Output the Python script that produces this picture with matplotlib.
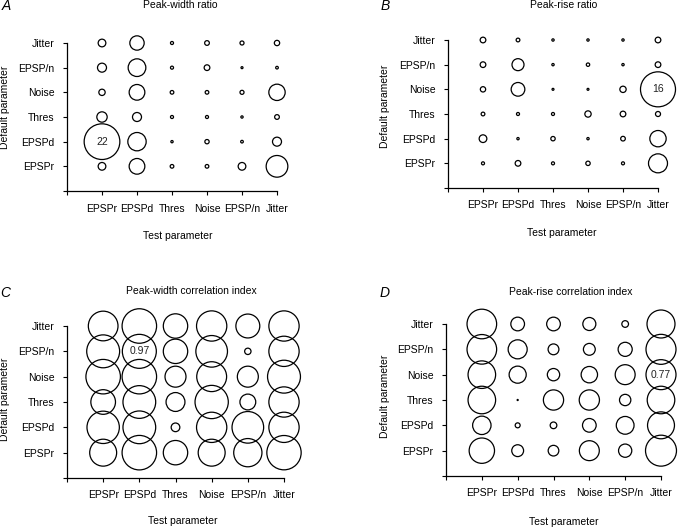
import matplotlib
matplotlib.use('Agg')
import matplotlib.pyplot as plt
import numpy as np

plt.rcParams['font.family'] = ['Liberation Sans', 'DejaVu Sans']

# Parameters (x: test parameter, y: default parameter, bottom -> top)
test_params = ['EPSPr', 'EPSPd', 'Thres', 'Noise', 'EPSP/n', 'Jitter']
default_params = ['EPSPr', 'EPSPd', 'Thres', 'Noise', 'EPSP/n', 'Jitter']

# Panel A: Peak-width ratio (rows = default param, bottom->top; cols = test param)
peak_width_ratio = [
    [1.02, 4.25, 0.23, 0.23, 1.02, 8.12],   # EPSPr
    [22.0, 5.81, 0.09, 0.32, 0.12, 1.40],   # EPSPd
    [1.85, 1.40, 0.16, 0.16, 0.09, 0.38],   # Thres
    [0.69, 4.25, 0.23, 0.23, 0.28, 4.61],   # Noise
    [1.40, 5.40, 0.16, 0.56, 0.07, 0.12],   # EPSP/n
    [1.02, 3.55, 0.16, 0.38, 0.28, 0.49],   # Jitter
]

# Panel B: Peak-rise ratio
peak_rise_ratio = [
    [0.12, 0.42, 0.12, 0.25, 0.12, 4.71],
    [0.77, 0.07, 0.25, 0.07, 0.28, 3.48],
    [0.18, 0.12, 0.12, 0.52, 0.42, 0.33],
    [0.37, 2.44, 0.05, 0.05, 0.52, 16.0],
    [0.42, 1.88, 0.07, 0.15, 0.07, 0.42],
    [0.42, 0.18, 0.07, 0.07, 0.07, 0.42],
]

# Panel C: Peak-width correlation index
peak_width_corr = [
    [0.61, 1.00, 0.50, 0.61, 0.67, 0.99],
    [0.88, 0.90, 0.063, 0.77, 0.84, 0.77],
    [0.51, 0.90, 0.30, 0.93, 0.21, 0.77],
    [1.00, 1.00, 0.37, 0.75, 0.37, 0.91],
    [0.91, 0.97, 0.50, 0.84, 0.034, 0.77],
    [0.74, 1.00, 0.50, 0.77, 0.48, 0.77],
]

# Panel D: Peak-rise correlation index
peak_rise_corr = [
    [0.55, 0.12, 0.097, 0.34, 0.15, 0.82],
    [0.29, 0.021, 0.038, 0.16, 0.27, 0.62],
    [0.65, 0.001, 0.35, 0.35, 0.11, 0.65],
    [0.65, 0.25, 0.13, 0.23, 0.34, 0.77],
    [0.75, 0.31, 0.10, 0.12, 0.17, 0.77],
    [0.75, 0.16, 0.16, 0.145, 0.038, 0.67],
]

# Labelled bubbles: (row index, col index, text)
label_A = (1, 0, '22')
label_B = (3, 5, '16')
label_C = (4, 1, '0.97')
label_D = (3, 5, '0.77')

titles = ['Peak-width ratio', 'Peak-rise ratio',
          'Peak-width correlation index', 'Peak-rise correlation index']
letters = ['A', 'B', 'C', 'D']

W, H = 680, 528
fig = plt.figure(figsize=(W / 100, H / 100), dpi=100)

def px_rect(l, r, b, t):
    return [l / W, 1 - b / H, (r - l) / W, (b - t) / H]

def fx(x):
    return x / W

def fy(y):
    return 1 - y / H

panels = [
    dict(data=peak_width_ratio, lab=label_A, k=30.0, rect=px_rect(67, 277, 191, 43),
         title=(180, 5), xlab=(178, 236), ylab=(5, 107), letter=(6, 6)),
    dict(data=peak_rise_ratio, lab=label_B, k=39.7, rect=px_rect(448, 658, 188, 40),
         title=(564, 5), xlab=(562, 233), ylab=(385, 106), letter=(385, 6)),
    dict(data=peak_width_corr, lab=label_C, k=617.0, rect=px_rect(67, 284, 478, 326),
         title=(191, 291), xlab=(183, 521), ylab=(5, 399), letter=(5, 293)),
    dict(data=peak_rise_corr, lab=label_D, k=606.0, rect=px_rect(446, 661, 476, 324),
         title=(571, 292), xlab=(564, 522), ylab=(385, 396), letter=(385, 293)),
]

fs = 7.5
for i, p in enumerate(panels):
    ax = fig.add_axes(p['rect'])
    vals = np.array(p['data'], dtype=float)
    xs, ys = np.meshgrid(np.arange(1, 7), np.arange(1, 7))
    ax.scatter(xs.ravel(), ys.ravel(), s=vals.ravel() * p['k'],
               facecolors='none', edgecolors='black', linewidths=0.9,
               clip_on=False, zorder=3)
    r, c, txt = p['lab']
    ax.text(c + 1, r + 1, txt, ha='center', va='center', fontsize=fs, color='#222222', zorder=4)
    ax.set_xlim(0, 6)
    ax.set_ylim(0, 6)
    ax.set_xticks(range(0, 7))
    ax.set_xticklabels([''] + test_params, fontsize=fs)
    ax.set_yticks(range(0, 7))
    ax.set_yticklabels([''] + default_params, fontsize=fs)
    ax.tick_params(axis='both', direction='out', length=3, width=0.8, pad=6, colors='black')
    for s in ['top', 'right']:
        ax.spines[s].set_visible(False)
    for s in ['left', 'bottom']:
        ax.spines[s].set_linewidth(0.9)
    ax.patch.set_alpha(0)
    fig.text(fx(p['title'][0]), fy(p['title'][1]), titles[i], ha='center', va='center', fontsize=fs)
    fig.text(fx(p['xlab'][0]), fy(p['xlab'][1]), 'Test parameter', ha='center', va='center', fontsize=fs)
    fig.text(fx(p['ylab'][0]), fy(p['ylab'][1]), 'Default parameter', ha='center', va='center',
             rotation=90, fontsize=fs)
    fig.text(fx(p['letter'][0]), fy(p['letter'][1]), letters[i], ha='center', va='center',
             fontsize=10, style='italic')

fig.savefig('out.png', dpi=100)
